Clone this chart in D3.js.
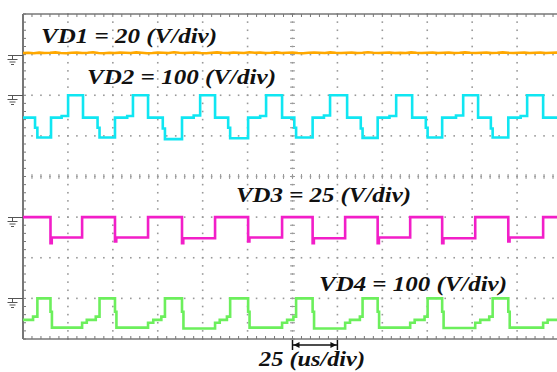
<!DOCTYPE html>
<html>
<head>
<meta charset="utf-8">
<script src="https://cdn.jsdelivr.net/npm/d3@7"></script>
<style>
  html, body { margin: 0; padding: 0; background: #ffffff; }
  svg { display: block; }
</style>
</head>
<body>
<svg id="scope" width="557" height="372"></svg>
<script>
// ---- channel settings ----
const channelNames = ["VD1", "VD2", "VD3", "VD4"];
const voltsPerDiv  = [20, 100, 25, 100];
const groundDiv    = [3, 2, -1, -3];          // ground reference, in screen divisions
const traceColors  = ["#ffa800", "#10e6f2", "#f21ec8", "#6cef5c"];

// ---- time base ----
const usPerDiv = 25;
const timeDivs = 12;
const voltDivs = 8;
const timeLabel = "25 (us/div)";

// ---- VD1: sampled every 3 us (volts) ----
const vd1Step = 3;
const vd1Volts = [0.8,0.9,0.7,1.0,0.8,0.9,1.1,0.8,0.7,0.9,1.0,0.8,0.9,1.2,0.8,0.7,0.9,0.8,1.0,0.9,
                  0.8,1.1,0.9,0.7,0.8,1.0,0.9,0.8,1.2,0.9,0.8,0.9,1.0,0.8,0.7,0.9,1.1,0.9,0.8,1.0,
                  0.9,0.8,1.2,0.9,1.0,0.8,0.9,1.1,0.8,0.9,1.0,0.8,0.7,0.9,1.0,0.9,0.8,1.1,0.9,0.8,
                  0.9,1.0,0.8,0.9,1.2,0.9,0.8,0.9,1.0,0.8,0.9,0.8,1.1,0.9,0.8,0.9,1.0,0.8,0.9,1.0,
                  0.8,0.9,1.1,0.9,0.8,0.9,1.0,0.8,0.9,1.1,0.9,0.8,0.9,1.0,0.8,0.9,1.0,0.8,0.9,1.0,0.9];

// ---- VD2: [time us, volts], each level held until the next point ----
const vd2 = [
  [0,-55],[6.7,-80],[8.0,-104],[15.6,-55],[21.5,-51],
  [25.1,0],[33.4,-55],[41.5,-80],[42.6,-104],[51.2,-55],[58,-51],
  [61.2,0],[69.6,-55],[77.8,-82],[79.0,-108],[88.5,-55],[95,-50],
  [98.6,0],[106.9,-55],[114.2,-80],[115.3,-106],[125.3,-55],[132,-51],
  [135.3,0],[144.2,-55],[151.0,-80],[152.0,-104],[161.2,-55],[167.5,-50],
  [170.9,0],[180.4,-55],[188.0,-82],[189.0,-105],[197.4,-55],[204,-51],
  [207.7,0],[216.6,-55],[224.2,-80],[225.2,-104],[233.3,-55],[241,-50],
  [245.0,0],[253.3,-55],[260.4,-82],[261.4,-104],[270.1,-55],[277,-51],
  [280.6,0],[289.5,-55],[300,-55]
];

// ---- VD3 ----
const vd3 = [
  [0,0],[15.3,-16],[16.0,-12.5],[32.9,0],
  [51.2,-15],[51.9,-12.5],[69.6,0],
  [88.5,-16],[89.2,-13],[106.9,0],
  [125.3,-15],[126.0,-12.5],[144.2,0],
  [161.2,-16],[161.9,-13],[179.3,0],
  [197.4,-16],[198.1,-12.5],[215.5,0],
  [233.3,-16],[234.0,-13],[251.7,0],
  [270.1,-15],[270.8,-12.5],[289.5,0],[300,0]
];

// ---- VD4 ----
const vd4 = [
  [0,-53],[5.6,-45],[8.0,0],[15.3,-33],[16.1,-72],
  [32.9,-60],[35.5,-53],[40.5,-45],[42.6,0],[51.2,-33],[52.0,-72],
  [69.6,-60],[72.5,-53],[77.0,-45],[79.0,0],[88.5,-33],[89.3,-74],
  [106.9,-60],[109.5,-53],[113.5,-45],[115.3,0],[125.3,-33],[126.1,-72],
  [144.2,-60],[147.0,-53],[150.5,-45],[152.0,0],[161.2,-33],[162.0,-74],
  [179.3,-60],[182.0,-53],[187.5,-45],[189.0,0],[197.4,-33],[198.2,-72],
  [215.5,-60],[218.0,-53],[223.5,-45],[225.2,0],[233.3,-33],[234.1,-73],
  [251.7,-60],[254.5,-53],[259.5,-45],[261.4,0],[270.1,-33],[270.9,-72],
  [289.5,-60],[292.0,-53],[300,-53]
];

// ---- scales ----
const svg = d3.select("#scope");
const x = d3.scaleLinear().domain([0, usPerDiv * timeDivs]).range([23, 562]);
const y = d3.scaleLinear().domain([-voltDivs / 2, voltDivs / 2]).range([339, 14]);

const gridColor = "#999";
const frameColor = "#777";
const labelFont = "'Liberation Serif', 'Times New Roman', serif";

// minor subdivision positions
const minorT = d3.range(0, usPerDiv * timeDivs + 0.01, usPerDiv / 5);
const minorV = d3.range(-voltDivs / 2, voltDivs / 2 + 0.01, 0.2);
const majorT = d3.range(1, timeDivs).map(i => i * usPerDiv);
const majorV = d3.range(-voltDivs / 2 + 1, voltDivs / 2);

const grid = svg.append("g");
// dotted vertical graticule lines
majorT.forEach(t => {
  grid.selectAll(null).data(minorV).join("rect")
    .attr("x", x(t) - 0.8).attr("y", d => y(d) - 0.8)
    .attr("width", 1.6).attr("height", 1.6).attr("fill", gridColor);
});
// dotted horizontal graticule lines
majorV.forEach(v => {
  grid.selectAll(null).data(minorT).join("rect")
    .attr("x", d => x(d) - 0.8).attr("y", y(v) - 0.8)
    .attr("width", 1.6).attr("height", 1.6).attr("fill", gridColor);
});
// centre axes with minor ticks
const tMid = usPerDiv * timeDivs / 2;
grid.selectAll(null).data(minorT).join("line")
  .attr("x1", d => x(d)).attr("x2", d => x(d))
  .attr("y1", y(0) - 2.5).attr("y2", y(0) + 2.5)
  .attr("stroke", gridColor).attr("stroke-width", 1);
grid.selectAll(null).data(minorV).join("line")
  .attr("x1", x(tMid) - 2.5).attr("x2", x(tMid) + 2.5)
  .attr("y1", d => y(d)).attr("y2", d => y(d))
  .attr("stroke", gridColor).attr("stroke-width", 1);

// frame with ticks
const frame = svg.append("g");
frame.append("line").attr("x1", x(0)).attr("x2", 557).attr("y1", y(4)).attr("y2", y(4))
  .attr("stroke", frameColor).attr("stroke-width", 1.5);
frame.append("line").attr("x1", x(0)).attr("x2", 557).attr("y1", y(-4)).attr("y2", y(-4))
  .attr("stroke", frameColor).attr("stroke-width", 1.5);
frame.append("line").attr("x1", x(0)).attr("x2", x(0)).attr("y1", y(4)).attr("y2", y(-4))
  .attr("stroke", frameColor).attr("stroke-width", 2);
frame.selectAll(null).data(minorT).join("line")
  .attr("x1", d => x(d)).attr("x2", d => x(d))
  .attr("y1", y(4)).attr("y2", y(4) + 3)
  .attr("stroke", frameColor).attr("stroke-width", 1);
frame.selectAll(null).data(minorT).join("line")
  .attr("x1", d => x(d)).attr("x2", d => x(d))
  .attr("y1", y(-4)).attr("y2", y(-4) - 3)
  .attr("stroke", frameColor).attr("stroke-width", 1);
frame.selectAll(null).data(minorV).join("line")
  .attr("x1", x(0)).attr("x2", x(0) + 3)
  .attr("y1", d => y(d)).attr("y2", d => y(d))
  .attr("stroke", frameColor).attr("stroke-width", 1);

// ground markers at the left edge
const gnd = svg.append("g").attr("stroke", "#555").attr("stroke-width", 1).attr("fill", "none");
groundDiv.forEach(g => {
  const gy = Math.round(y(g)) + 0.5;
  gnd.append("line").attr("x1", 8).attr("x2", x(0)).attr("y1", gy).attr("y2", gy);
  gnd.append("line").attr("x1", 12.5).attr("x2", 12.5).attr("y1", gy).attr("y2", gy + 4);
  gnd.append("line").attr("x1", 7.5).attr("x2", 17.5).attr("y1", gy + 4).attr("y2", gy + 4);
  gnd.append("line").attr("x1", 9.5).attr("x2", 15.5).attr("y1", gy + 6.5).attr("y2", gy + 6.5);
  gnd.append("line").attr("x1", 11).attr("x2", 14).attr("y1", gy + 9).attr("y2", gy + 9);
});

// ---- traces ----
const traces = svg.append("g");
const toDiv = (v, ch) => groundDiv[ch] + v / voltsPerDiv[ch];

const vd1 = vd1Volts.map((v, i) => [i * vd1Step, v]);
traces.append("path").datum(vd1)
  .attr("fill", "none").attr("stroke", traceColors[0]).attr("stroke-width", 2.6)
  .attr("d", d3.line().x(d => x(d[0])).y(d => y(toDiv(d[1], 0))));

[vd2, vd3, vd4].forEach((data, k) => {
  const ch = k + 1;
  traces.append("path").datum(data)
    .attr("fill", "none").attr("stroke", traceColors[ch]).attr("stroke-width", 2.6)
    .attr("stroke-linejoin", "miter")
    .attr("d", d3.line().curve(d3.curveStepAfter).x(d => x(d[0])).y(d => y(toDiv(d[1], ch))));
});

// ---- labels (wide bold italic serif) ----
function label(txt, px, py, width) {
  svg.append("text")
    .attr("x", px).attr("y", py)
    .attr("font-family", labelFont).attr("font-weight", "bold").attr("font-style", "italic")
    .attr("font-size", 20.5).attr("fill", "#111")
    .attr("textLength", width).attr("lengthAdjust", "spacingAndGlyphs")
    .text(txt);
}
const labelPos = [[41, 42.5, 176], [87, 84, 189], [236, 202, 175], [319, 291, 188]];
channelNames.forEach((n, i) => {
  label(`${n} = ${voltsPerDiv[i]} (V/div)`, labelPos[i][0], labelPos[i][1], labelPos[i][2]);
});

// ---- time-base marker ----
const tb = svg.append("g").attr("stroke", "#111").attr("stroke-width", 1.5);
const ta = x(tMid), tbx = x(tMid + usPerDiv), ay = 345;
tb.append("line").attr("x1", ta).attr("x2", tbx).attr("y1", ay).attr("y2", ay);
tb.append("line").attr("x1", ta).attr("x2", ta).attr("y1", ay - 5).attr("y2", ay + 5);
tb.append("line").attr("x1", tbx).attr("x2", tbx).attr("y1", ay - 5).attr("y2", ay + 5);
svg.append("path").attr("fill", "#111")
  .attr("d", `M${ta + 1},${ay} l6,-3 l0,6 z M${tbx - 1},${ay} l-6,-3 l0,6 z`);
label(timeLabel, 259, 366, 106);
</script>
</body>
</html>
